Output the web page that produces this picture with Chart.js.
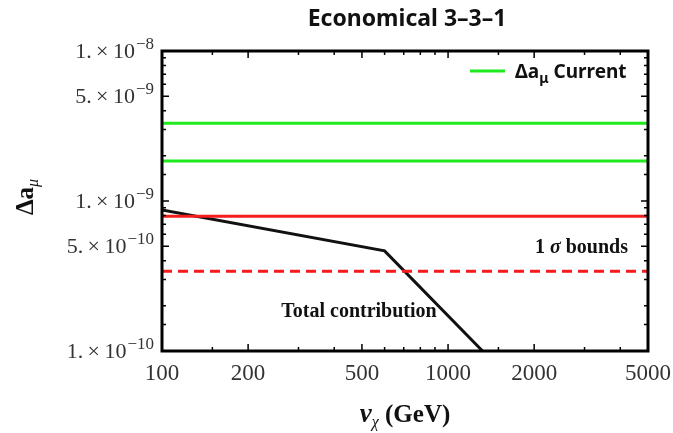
<!DOCTYPE html>
<html>
<head>
<meta charset="utf-8">
<script src="https://cdn.jsdelivr.net/npm/chart.js@4.4.0/dist/chart.umd.min.js"></script>
<style>
  html, body { margin: 0; padding: 0; background: #fff; }
</style>
</head>
<body>
<canvas id="chart" width="673" height="433"></canvas>
<script>
// ---- data ----
const xRange = [100, 5000];
const currentBounds = [3.3e-9, 1.85e-9];      // green lines
const sigmaUpper = 7.9e-10;                    // red solid
const sigmaLower = 3.4e-10;                    // red dashed
const totalX = [100, 600, 1320];
const totalY = [8.7e-10, 4.65e-10, 1.0e-10];

// ---- ticks ----
const xMajor = [100, 200, 500, 1000, 2000, 5000];
const xMinor = [150, 300, 400, 600, 700, 800, 900, 1500, 3000, 4000];
const xLabels = ['100', '200', '500', '1000', '2000', '5000'];
const yMajor = [1e-10, 5e-10, 1e-9, 5e-9, 1e-8];
const yMinor = [1.5e-10, 2e-10, 3e-10, 4e-10, 6e-10, 7e-10, 8e-10, 9e-10,
                1.5e-9, 2e-9, 3e-9, 4e-9, 6e-9, 7e-9, 8e-9, 9e-9];
const yLabelBase = ['1.', '5.', '1.', '5.', '1.'];
const yLabelExp = ['−10', '−10', '−9', '−9', '−8'];

const SERIF = "'Liberation Serif', 'DejaVu Serif', serif";
const SANS = "'Noto Sans', 'Open Sans', sans-serif";
const GREEN = '#1eea1e';
const RED = '#f41c1c';

function hLine(v) {
  return xRange.map(x => ({x: x, y: v}));
}

function majorIndex(list, v) {
  return list.findIndex(m => Math.abs(m - v) / m < 1e-6);
}

// draw a run of text pieces with their own fonts / vertical offsets
function drawRich(ctx, parts, x, y, align) {
  let w = 0;
  parts.forEach(p => { ctx.font = p.font; w += ctx.measureText(p.text).width + (p.gap || 0); });
  let cx = align === 'center' ? x - w / 2 : (align === 'right' ? x - w : x);
  ctx.textAlign = 'left';
  ctx.textBaseline = 'alphabetic';
  parts.forEach(p => {
    ctx.font = p.font;
    cx += p.gap || 0;
    ctx.fillText(p.text, cx, y + (p.dy || 0));
    cx += ctx.measureText(p.text).width;
  });
}

const framePlugin = {
  id: 'frame',
  afterDraw(chart) {
    const {ctx, chartArea: a, scales} = chart;
    ctx.save();
    ctx.strokeStyle = '#000';
    // tick marks on all four sides, pointing inwards
    ctx.lineWidth = 1.5;
    scales.x.ticks.forEach(t => {
      const px = scales.x.getPixelForValue(t.value);
      const len = majorIndex(xMajor, t.value) >= 0 ? 7 : 4;
      ctx.beginPath();
      ctx.moveTo(px, a.bottom); ctx.lineTo(px, a.bottom - len);
      ctx.moveTo(px, a.top); ctx.lineTo(px, a.top + len);
      ctx.stroke();
    });
    scales.y.ticks.forEach(t => {
      const py = scales.y.getPixelForValue(t.value);
      const len = majorIndex(yMajor, t.value) >= 0 ? 7 : 4;
      ctx.beginPath();
      ctx.moveTo(a.left, py); ctx.lineTo(a.left + len, py);
      ctx.moveTo(a.right, py); ctx.lineTo(a.right - len, py);
      ctx.stroke();
    });
    // thick frame
    ctx.lineWidth = 3;
    ctx.strokeRect(a.left, a.top, a.right - a.left, a.bottom - a.top);

    // y tick labels with real superscripts
    ctx.fillStyle = '#333';
    yMajor.forEach((v, i) => {
      const py = scales.y.getPixelForValue(v);
      drawRich(ctx, [
        {text: yLabelBase[i] + '\u2009×\u200910', font: '22px ' + SERIF},
        {text: yLabelExp[i], font: '17px ' + SERIF, dy: -9, gap: 1}
      ], a.left - 8, py + 7, 'right');
    });

    // title
    ctx.fillStyle = '#111';
    drawRich(ctx, [{text: 'Economical 3–3–1', font: 'bold 23px ' + SANS}], 407, 26, 'center');

    // legend entry
    ctx.strokeStyle = GREEN;
    ctx.lineWidth = 3;
    ctx.beginPath();
    ctx.moveTo(470, 71); ctx.lineTo(505, 71);
    ctx.stroke();
    drawRich(ctx, [
      {text: 'Δa', font: 'bold 19px ' + SANS},
      {text: 'μ', font: 'bold 14px ' + SANS, dy: 5},
      {text: ' Current', font: 'bold 19px ' + SANS}
    ], 515, 78, 'left');

    // annotations
    drawRich(ctx, [
      {text: '1 ', font: 'bold 20px ' + SERIF},
      {text: 'σ', font: 'italic bold 20px ' + SERIF},
      {text: ' bounds', font: 'bold 20px ' + SERIF}
    ], 628, 253, 'right');
    drawRich(ctx, [{text: 'Total contribution', font: 'bold 20px ' + SERIF}], 359, 317, 'center');

    // x axis title
    drawRich(ctx, [
      {text: 'v', font: 'italic bold 27px ' + SERIF},
      {text: 'χ', font: 'italic 16px ' + SERIF, dy: 5},
      {text: ' (GeV)', font: 'bold 25px ' + SERIF}
    ], 405, 422, 'center');

    // y axis title (rotated)
    ctx.translate(33, 197);
    ctx.rotate(-Math.PI / 2);
    drawRich(ctx, [
      {text: 'Δa', font: 'bold 25px ' + SERIF},
      {text: 'μ', font: 'italic 16px ' + SERIF, dy: 5}
    ], 0, 0, 'center');
    ctx.restore();
  }
};

new Chart(document.getElementById('chart'), {
  type: 'line',
  data: {
    datasets: [
      {data: hLine(currentBounds[0]), borderColor: GREEN, borderWidth: 3},
      {data: hLine(currentBounds[1]), borderColor: GREEN, borderWidth: 3},
      {data: hLine(sigmaUpper), borderColor: RED, borderWidth: 3},
      {data: hLine(sigmaLower), borderColor: RED, borderWidth: 3, borderDash: [10, 6]},
      {data: totalX.map((x, i) => ({x: x, y: totalY[i]})), borderColor: '#111', borderWidth: 3}
    ]
  },
  options: {
    responsive: false,
    animation: false,
    devicePixelRatio: 1,
    layout: { padding: { top: 51, right: 25, left: 0, bottom: 0 } },
    elements: { point: { radius: 0 }, line: { tension: 0 } },
    plugins: { legend: { display: false }, tooltip: { enabled: false } },
    scales: {
      x: {
        type: 'logarithmic',
        min: xRange[0],
        max: xRange[1],
        grid: { display: false, drawTicks: false },
        border: { display: false },
        afterBuildTicks: s => { s.ticks = xMajor.concat(xMinor).sort((a, b) => a - b).map(v => ({value: v})); },
        afterFit: s => { s.height = 82; s.paddingLeft = 0; s.paddingRight = 0; },
        ticks: {
          autoSkip: false,
          maxRotation: 0,
          padding: 9,
          color: '#333',
          font: { family: SERIF, size: 23 },
          callback: v => { const i = majorIndex(xMajor, v); return i >= 0 ? xLabels[i] : ''; }
        }
      },
      y: {
        type: 'logarithmic',
        min: 1e-10,
        max: 1e-8,
        grid: { display: false, drawTicks: false },
        border: { display: false },
        afterBuildTicks: s => { s.ticks = yMajor.concat(yMinor).sort((a, b) => a - b).map(v => ({value: v})); },
        afterFit: s => { s.width = 162; s.paddingTop = 0; s.paddingBottom = 0; },
        ticks: { display: false }
      }
    }
  },
  plugins: [framePlugin]
});
</script>
</body>
</html>
